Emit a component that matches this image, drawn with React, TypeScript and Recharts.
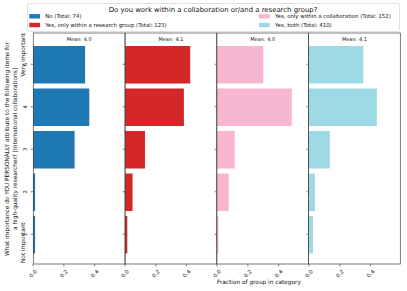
import { BarChart, Bar, XAxis, YAxis } from 'recharts';

const categories = ['5', '4', '3', '2', '1'];
const noValues = [0.338, 0.365, 0.27, 0.0135, 0.0135];
const researchValues = [0.423, 0.382, 0.13, 0.049, 0.015];
const collabValues = [0.3, 0.485, 0.115, 0.076, 0.009];
const bothValues = [0.352, 0.44, 0.135, 0.039, 0.026];

const groupNames = ['No', 'Yes, only within a research group', 'Yes, only within a collaboration', 'Yes, both'];
const groupTotals = [74, 123, 152, 410];
const groupMeans = ['4.0', '4.1', '4.0', '4.1'];
const groupColors = ['#1f77b4', '#d62728', '#f7b6d2', '#9edae5'];
const xTicks = [0, 0.2, 0.4];

const FONT = 'DejaVu Sans';
const PANEL_LEFT = 33.3;
const PANEL_W = 91.75;
const PANEL_TOP = 33;
const PANEL_H = 231;
const Y_AXIS_W = 12;
const TOP_M = 4;

const series = [noValues, researchValues, collabValues, bothValues];

const XTick = ({ x, y, payload }: any) => (
  <text
    x={x}
    y={y + 5}
    transform={`rotate(-45 ${x} ${y + 5})`}
    textAnchor="middle"
    dominantBaseline="central"
    fontSize={5.3}
    fontFamily={FONT}
    fill="#111"
  >
    {payload.value.toFixed(1)}
  </text>
);

const YTick = ({ x, y, payload, show }: any) =>
  show ? (
    <text
      x={x - 2}
      y={y}
      transform={`rotate(-90 ${x - 2} ${y})`}
      textAnchor="middle"
      fontSize={5.3}
      fontFamily={FONT}
      fill="#111"
    >
      {payload.value}
    </text>
  ) : (
    <g />
  );

function Panel({ index }: { index: number }) {
  const data = categories.map((c, i) => ({ cat: c, value: series[index][i] }));
  const left = PANEL_LEFT + index * PANEL_W - Y_AXIS_W;
  return (
    <div style={{ position: 'absolute', left, top: PANEL_TOP - TOP_M }}>
      <BarChart
        width={Y_AXIS_W + PANEL_W + 2}
        height={TOP_M + PANEL_H + 22}
        data={data}
        layout="vertical"
        margin={{ top: TOP_M, right: 2, left: 0, bottom: 0 }}
      >
        <XAxis
          type="number"
          dataKey="value"
          domain={[0, 0.595]}
          ticks={xTicks}
          height={22}
          axisLine={false}
          tickSize={2.5}
          tickLine={{ stroke: '#333', strokeWidth: 0.6 }}
          tick={<XTick />}
          interval={0}
          allowDataOverflow
        />
        <YAxis
          type="category"
          dataKey="cat"
          width={Y_AXIS_W}
          padding={{ top: 10, bottom: 8.5 }}
          axisLine={false}
          tickSize={2.5}
          tickLine={{ stroke: '#333', strokeWidth: 0.6 }}
          tick={<YTick show={index === 0} />}
          interval={0}
        />
        <Bar dataKey="value" fill={groupColors[index]} barSize={37.5} isAnimationActive={false} />
      </BarChart>
    </div>
  );
}

export default function App() {
  const legendRows = [
    { i: 0, x: 29.3, y: 16.3 },
    { i: 1, x: 29.3, y: 25 },
    { i: 2, x: 259, y: 16.3 },
    { i: 3, x: 259, y: 25 },
  ];
  return (
    <div style={{ position: 'relative', width: 407, height: 291, background: '#fff', fontFamily: FONT }}>
      <style>{`body{margin:0}`}</style>
      {[0, 1, 2, 3].map((i) => (
        <Panel key={i} index={i} />
      ))}
      <svg width={407} height={291} style={{ position: 'absolute', left: 0, top: 0, pointerEvents: 'none' }}>
        {/* legend box */}
        <rect x={27.5} y={3.5} width={372} height={28} rx={1.5} fill="#fff" fillOpacity={0.8} stroke="#d8d8d8" strokeWidth={0.8} />
        <text x={213} y={9.5} textAnchor="middle" dominantBaseline="central" fontSize={6.9} fontFamily={FONT} fill="#111">
          Do you work within a collaboration or/and a research group?
        </text>
        {legendRows.map(({ i, x, y }) => (
          <g key={i}>
            <rect x={x} y={y - 2.2} width={10.7} height={4.4} fill={groupColors[i]} />
            <text x={x + 16} y={y} dominantBaseline="central" fontSize={5.4} fontFamily={FONT} fill="#111">
              {`${groupNames[i]} (Total: ${groupTotals[i]})`}
            </text>
          </g>
        ))}
        {/* panel frames and mean labels */}
        {[0, 1, 2, 3].map((i) => {
          const px = PANEL_LEFT + i * PANEL_W;
          return (
            <g key={i}>
              <rect x={px} y={PANEL_TOP} width={PANEL_W} height={PANEL_H} fill="none" stroke="#444" strokeWidth={0.7} />
              <text x={px + PANEL_W / 2} y={39.3} textAnchor="middle" dominantBaseline="central" fontSize={5} fontFamily={FONT} fill="#111">
                {`Mean: ${groupMeans[i]}`}
              </text>
            </g>
          );
        })}
        {/* y label */}
        <g fontFamily={FONT} fill="#111">
          <text x={7} y={149} transform="rotate(-90 7 149)" textAnchor="middle" dominantBaseline="central" fontSize={5.8}>
            What importance do YOU PERSONALLY attribute to the following items for
          </text>
          <text x={15} y={149} transform="rotate(-90 15 149)" textAnchor="middle" dominantBaseline="central" fontSize={5.8}>
            a high-quality researcher? [International collaborations]
          </text>
          <text x={23} y={263} transform="rotate(-90 23 263)" textAnchor="start" dominantBaseline="central" fontSize={5.8}>
            Not important
          </text>
          <text x={23} y={33} transform="rotate(-90 23 33)" textAnchor="end" dominantBaseline="central" fontSize={5.8}>
            Very important
          </text>
        </g>
        <text x={217} y={282} dominantBaseline="central" fontSize={5.8} fontFamily={FONT} fill="#111">
          Fraction of group in category
        </text>
      </svg>
    </div>
  );
}
